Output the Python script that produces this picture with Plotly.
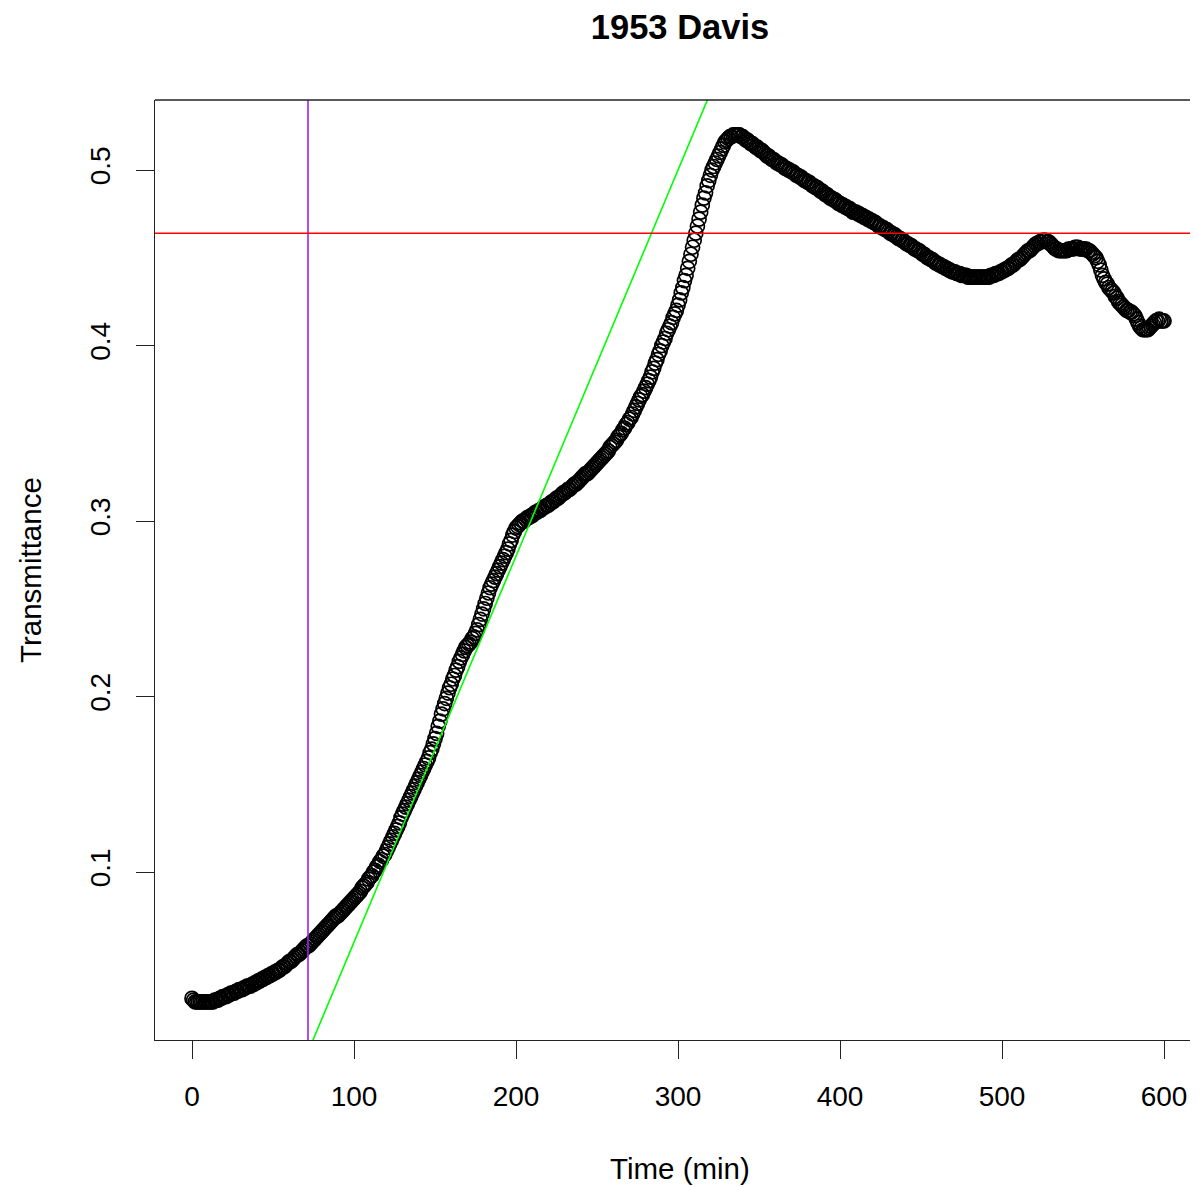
import plotly.graph_objects as go

# ---- data (one reading per minute) ----
time_min = list(range(0, 601))

transmittance = [
    0.028, 0.027, 0.026, 0.026, 0.026, 0.026, 0.026, 0.026, 0.026, 0.026,
    0.026, 0.026, 0.026, 0.026, 0.027, 0.027, 0.027, 0.028, 0.028, 0.029,
    0.029, 0.029, 0.030, 0.030, 0.031, 0.031, 0.031, 0.032, 0.032, 0.033,
    0.033, 0.033, 0.034, 0.034, 0.035, 0.035, 0.035, 0.036, 0.036, 0.037,
    0.037, 0.038, 0.038, 0.039, 0.039, 0.040, 0.040, 0.041, 0.041, 0.042,
    0.042, 0.043, 0.043, 0.044, 0.044, 0.045, 0.046, 0.046, 0.047, 0.048,
    0.049, 0.049, 0.050, 0.051, 0.052, 0.053, 0.053, 0.054, 0.055, 0.056,
    0.057, 0.058, 0.058, 0.059, 0.060, 0.061, 0.062, 0.063, 0.064, 0.065,
    0.066, 0.067, 0.068, 0.069, 0.070, 0.071, 0.072, 0.073, 0.074, 0.075,
    0.075, 0.076, 0.077, 0.078, 0.079, 0.080, 0.081, 0.082, 0.083, 0.084,
    0.085, 0.086, 0.087, 0.088, 0.089, 0.091, 0.092, 0.093, 0.094, 0.096,
    0.097, 0.098, 0.100, 0.101, 0.103, 0.104, 0.106, 0.107, 0.109, 0.110,
    0.112, 0.114, 0.116, 0.118, 0.120, 0.122, 0.124, 0.126, 0.128, 0.131,
    0.133, 0.135, 0.137, 0.139, 0.141, 0.143, 0.145, 0.147, 0.149, 0.151,
    0.153, 0.155, 0.157, 0.159, 0.161, 0.163, 0.165, 0.168, 0.170, 0.173,
    0.176, 0.179, 0.183, 0.186, 0.190, 0.193, 0.196, 0.199, 0.202, 0.205,
    0.207, 0.210, 0.212, 0.215, 0.217, 0.220, 0.222, 0.224, 0.226, 0.228,
    0.229, 0.230, 0.231, 0.233, 0.234, 0.236, 0.238, 0.241, 0.244, 0.247,
    0.250, 0.253, 0.256, 0.259, 0.262, 0.264, 0.266, 0.268, 0.270, 0.272,
    0.274, 0.276, 0.278, 0.280, 0.282, 0.284, 0.287, 0.289, 0.292, 0.294,
    0.296, 0.297, 0.298, 0.299, 0.300, 0.300, 0.301, 0.302, 0.302, 0.303,
    0.303, 0.304, 0.305, 0.305, 0.306, 0.306, 0.307, 0.308, 0.308, 0.309,
    0.309, 0.310, 0.311, 0.311, 0.312, 0.313, 0.313, 0.314, 0.315, 0.316,
    0.316, 0.317, 0.318, 0.318, 0.319, 0.320, 0.321, 0.321, 0.322, 0.323,
    0.324, 0.325, 0.326, 0.327, 0.327, 0.328, 0.329, 0.330, 0.331, 0.332,
    0.333, 0.334, 0.335, 0.336, 0.337, 0.338, 0.339, 0.340, 0.342, 0.343,
    0.344, 0.345, 0.346, 0.348, 0.349, 0.350, 0.352, 0.353, 0.355, 0.356,
    0.358, 0.359, 0.361, 0.363, 0.365, 0.367, 0.369, 0.371, 0.372, 0.374,
    0.376, 0.378, 0.380, 0.382, 0.385, 0.387, 0.390, 0.392, 0.395, 0.397,
    0.400, 0.402, 0.404, 0.407, 0.409, 0.411, 0.413, 0.416, 0.418, 0.420,
    0.423, 0.426, 0.430, 0.433, 0.437, 0.440, 0.444, 0.448, 0.452, 0.456,
    0.460, 0.464, 0.468, 0.472, 0.476, 0.480, 0.484, 0.487, 0.491, 0.494,
    0.497, 0.500, 0.502, 0.504, 0.506, 0.508, 0.510, 0.512, 0.514, 0.516,
    0.517, 0.518, 0.519, 0.519, 0.520, 0.520, 0.520, 0.520, 0.520, 0.519,
    0.519, 0.518, 0.517, 0.517, 0.516, 0.515, 0.515, 0.514, 0.513, 0.513,
    0.512, 0.511, 0.511, 0.510, 0.509, 0.508, 0.508, 0.507, 0.506, 0.506,
    0.505, 0.504, 0.504, 0.503, 0.503, 0.502, 0.501, 0.501, 0.500, 0.500,
    0.499, 0.499, 0.498, 0.497, 0.497, 0.496, 0.496, 0.495, 0.494, 0.494,
    0.493, 0.493, 0.492, 0.491, 0.491, 0.490, 0.490, 0.489, 0.488, 0.488,
    0.487, 0.486, 0.486, 0.485, 0.484, 0.484, 0.483, 0.483, 0.482, 0.481,
    0.481, 0.480, 0.480, 0.479, 0.479, 0.478, 0.478, 0.477, 0.476, 0.476,
    0.476, 0.475, 0.475, 0.474, 0.474, 0.473, 0.473, 0.472, 0.472, 0.471,
    0.471, 0.470, 0.470, 0.469, 0.468, 0.468, 0.467, 0.467, 0.466, 0.466,
    0.465, 0.464, 0.464, 0.463, 0.463, 0.462, 0.461, 0.461, 0.460, 0.460,
    0.459, 0.458, 0.458, 0.457, 0.457, 0.456, 0.455, 0.455, 0.454, 0.454,
    0.453, 0.452, 0.452, 0.451, 0.450, 0.450, 0.449, 0.449, 0.448, 0.447,
    0.447, 0.446, 0.446, 0.445, 0.445, 0.444, 0.444, 0.443, 0.443, 0.442,
    0.442, 0.442, 0.441, 0.441, 0.441, 0.440, 0.440, 0.440, 0.440, 0.439,
    0.439, 0.439, 0.439, 0.439, 0.439, 0.439, 0.439, 0.439, 0.439, 0.439,
    0.439, 0.439, 0.439, 0.440, 0.440, 0.440, 0.441, 0.441, 0.441, 0.442,
    0.442, 0.443, 0.443, 0.444, 0.444, 0.445, 0.446, 0.446, 0.447, 0.448,
    0.449, 0.449, 0.450, 0.451, 0.452, 0.453, 0.454, 0.454, 0.455, 0.456,
    0.457, 0.458, 0.458, 0.459, 0.459, 0.460, 0.460, 0.460, 0.459, 0.459,
    0.458, 0.457, 0.456, 0.455, 0.455, 0.454, 0.454, 0.454, 0.454, 0.454,
    0.454, 0.455, 0.455, 0.455, 0.455, 0.456, 0.456, 0.456, 0.455, 0.455,
    0.455, 0.455, 0.455, 0.454, 0.454, 0.453, 0.452, 0.451, 0.450, 0.448,
    0.446, 0.443, 0.440, 0.438, 0.436, 0.435, 0.433, 0.432, 0.431, 0.430,
    0.428, 0.427, 0.425, 0.424, 0.423, 0.422, 0.421, 0.420, 0.420, 0.419,
    0.419, 0.418, 0.417, 0.415, 0.413, 0.411, 0.410, 0.409, 0.409, 0.409,
    0.409, 0.410, 0.411, 0.412, 0.413, 0.414, 0.414, 0.415, 0.414, 0.414,
    0.414,
]

x_ticks = [0, 100, 200, 300, 400, 500, 600]
y_ticks = [0.1, 0.2, 0.3, 0.4, 0.5]
y_tick_labels = ["0.1", "0.2", "0.3", "0.4", "0.5"]

lag_time = 71.6          # purple vertical line
threshold = 0.464        # red horizontal line
slope = 0.0022           # green tangent line
intercept = -0.160
green_x = [-40, 700]

FONT = "Liberation Sans, Arial, Helvetica, sans-serif"

# the page adds an 8px body margin; the figure is shifted by it
W, H = 1182, 1179
OFF = 8
L, T, B = 155 - OFF, 100 - OFF, H - (1040 - OFF)
PW, PH = W - L, H - T - B

fig = go.Figure()

fig.add_trace(go.Scatter(
    x=time_min, y=transmittance, mode="markers",
    marker=dict(symbol="circle-open", size=14, color="black",
                line=dict(width=1.7, color="black")),
    showlegend=False, hoverinfo="x+y",
))

fig.add_trace(go.Scatter(
    x=green_x, y=[intercept + slope * t for t in green_x], mode="lines",
    line=dict(color="#00FF00", width=1.6), showlegend=False, hoverinfo="skip",
))

fig.add_shape(type="line", xref="x", yref="paper", x0=lag_time, x1=lag_time,
              y0=0, y1=1, line=dict(color="#A020F0", width=1.6), layer="above")
fig.add_shape(type="line", xref="paper", yref="y", x0=0, x1=1,
              y0=threshold, y1=threshold, line=dict(color="#FF0000", width=1.6),
              layer="above")
# top border of the plot box
fig.add_shape(type="line", xref="paper", yref="paper", x0=0, x1=1, y0=1, y1=1,
              line=dict(color="#222222", width=1.3), layer="above")

fig.update_layout(
    width=W, height=H,
    margin=dict(l=L, r=0, t=T, b=B, pad=0),
    paper_bgcolor="white", plot_bgcolor="white",
    font=dict(family=FONT, size=28, color="black"),
    title=dict(text="<b>1953 Davis</b>", x=(680 - OFF) / W, xref="container",
               xanchor="center", y=1 - (27 - OFF) / H, yref="container",
               yanchor="middle", font=dict(family=FONT, size=34.5, color="black")),
    xaxis=dict(range=[-22.84, 616.05], tickvals=x_ticks,
               ticks="outside", ticklen=18, tickwidth=1.3, tickcolor="#222222",
               showline=True, linecolor="#222222", linewidth=1.3,
               showgrid=False, zeroline=False, ticklabelstandoff=13,
               tickfont=dict(family=FONT, size=28, color="black")),
    yaxis=dict(range=[0.0043, 0.5399], tickvals=y_ticks, ticktext=y_tick_labels,
               tickangle=-90, ticks="outside", ticklen=18, tickwidth=1.3,
               tickcolor="#222222", showline=True, linecolor="#222222",
               linewidth=1.3, showgrid=False, zeroline=False,
               ticklabelstandoff=15,
               tickfont=dict(family=FONT, size=28, color="black")),
    annotations=[
        dict(text="Time (min)", xref="paper", yref="paper",
             x=(680 - 155) / PW, y=(1040 - 1168) / PH,
             xanchor="center", yanchor="middle", showarrow=False,
             font=dict(family=FONT, size=29.5, color="black")),
        dict(text="Transmittance", xref="paper", yref="paper",
             x=(30 - 155) / PW, y=0.5, textangle=-90,
             xanchor="center", yanchor="middle", showarrow=False,
             font=dict(family=FONT, size=29.5, color="black")),
    ],
)

fig.write_html("out.html")
